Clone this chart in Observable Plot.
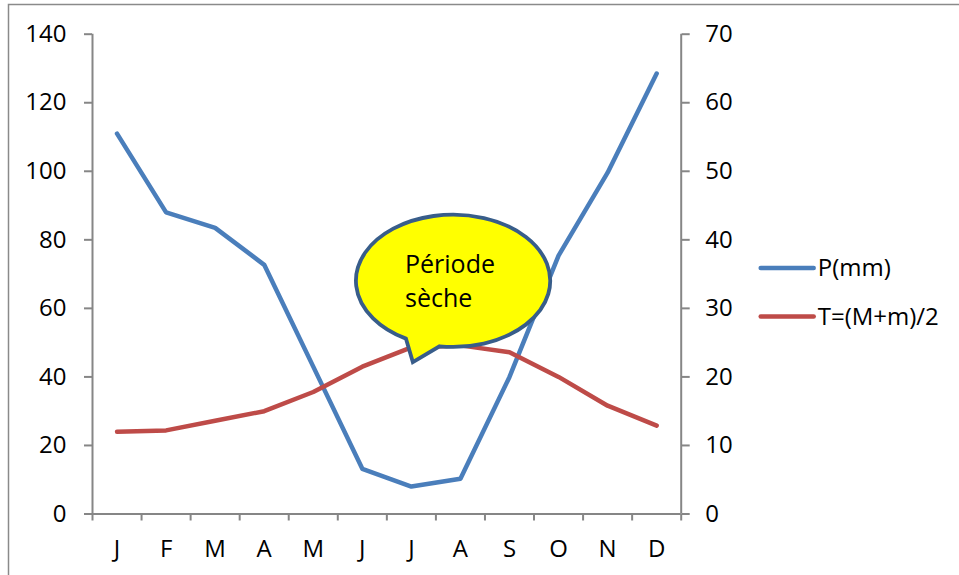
<!DOCTYPE html>
<html>
<head>
<meta charset="utf-8">
<script src="https://cdn.jsdelivr.net/npm/d3@7"></script>
<script src="https://cdn.jsdelivr.net/npm/@observablehq/plot@0.6"></script>
<style>
  html, body { margin: 0; padding: 0; background: #fff; }
  #chart { width: 959px; height: 575px; position: relative; }
</style>
</head>
<body>
<div id="chart"></div>
<script>
// ---- data ----
const months = ["J", "F", "M", "A", "M", "J", "J", "A", "S", "O", "N", "D"];
const precip = [111, 88, 83.5, 72.7, 43, 13.2, 8, 10.3, 40, 75.4, 99.6, 128.5]; // P(mm), left axis
const temp = [12, 12.2, 13.6, 15, 17.8, 21.5, 24.3, 24.6, 23.6, 20, 15.8, 12.9]; // T, right axis
const leftTicks = [0, 20, 40, 60, 80, 100, 120, 140];
const rightTicks = [0, 10, 20, 30, 40, 50, 60, 70];
const seriesNames = ["P(mm)", "T=(M+m)/2"];
const bubbleLines = ["Période", "sèche"];

// ---- styles ----
const colors = ["#4A7EBB", "#BE4B48"];
const axisGray = "#868686";
const font = "'Open Sans', sans-serif";
const fs = 24;

const leftMax = leftTicks[leftTicks.length - 1];
const rightMax = rightTicks[rightTicks.length - 1];
const ratio = leftMax / rightMax;

const rows = months.map((m, i) => ({i, p: precip[i], t: temp[i]}));
const boundaries = d3.range(months.length + 1).map(k => k - 0.5);

const W = 959, H = 575;
const plot = Plot.plot({
  width: W,
  height: H,
  marginLeft: 92,
  marginRight: 278.3,
  marginTop: 33.7,
  marginBottom: 61.5,
  style: {fontFamily: font, fontSize: fs + "px", color: "#000", background: "transparent", overflow: "visible"},
  x: {type: "linear", domain: [-0.5, months.length - 0.5]},
  y: {domain: [0, leftMax]},
  marks: [
    Plot.ruleX([-0.5], {stroke: axisGray, strokeWidth: 2}),
    Plot.ruleX([months.length - 0.5], {stroke: axisGray, strokeWidth: 2}),
    Plot.ruleY([0], {stroke: axisGray, strokeWidth: 2}),
    Plot.axisY({anchor: "left", ticks: leftTicks, tickSize: 8, tickPadding: 18, stroke: axisGray, strokeWidth: 2, label: null, fontSize: fs}),
    Plot.axisY({anchor: "right", ticks: leftTicks, tickFormat: d => d / ratio, tickSize: 8, tickPadding: 16, stroke: axisGray, strokeWidth: 2, label: null, fontSize: fs}),
    Plot.axisX({anchor: "bottom", ticks: boundaries, tickSize: 7, tickFormat: () => "", stroke: axisGray, strokeWidth: 2, label: null}),
    Plot.axisX({anchor: "bottom", ticks: months.map((m, i) => i), tickFormat: i => months[i], tickSize: 0, tickPadding: 26, label: null, fontSize: fs}),
    Plot.line(rows, {x: "i", y: "p", stroke: colors[0], strokeWidth: 4.5, strokeLinejoin: "round", strokeLinecap: "round"}),
    Plot.line(rows, {x: "i", y: d => d.t * ratio, stroke: colors[1], strokeWidth: 4.5, strokeLinejoin: "round", strokeLinecap: "round"})
  ]
});
document.getElementById("chart").appendChild(plot);

// scales from the plot
const sx = plot.scale("x"), sy = plot.scale("y");
const X = d3.scaleLinear(sx.domain, sx.range);
const Y = d3.scaleLinear(sy.domain, sy.range);
const svg = d3.select(plot);

// outer chart frame (partial, as in the reference)
svg.insert("path", ":first-child")
  .attr("d", `M8.5,${H} V4.5 H${W}`)
  .attr("fill", "none").attr("stroke", "#8a8a8a").attr("stroke-width", 1.5);

// ---- speech bubble annotation (data coords) ----
const bubble = {cx: 6.86, cy: 67.9, rxU: 1.98, ryU: 19.3, tipX: 6.04, tipY: 44.2, a1: 119, a2: 98, textX: 5.88, textY: [70.2, 60.3]};
const cx = X(bubble.cx), cy = Y(bubble.cy);
const rx = X(bubble.cx + bubble.rxU) - cx, ry = Y(bubble.cy - bubble.ryU) - cy;
const pt = a => [cx + rx * Math.cos(a * Math.PI / 180), cy + ry * Math.sin(a * Math.PI / 180)];
const [b1x, b1y] = pt(bubble.a1), [b2x, b2y] = pt(bubble.a2);
const g = svg.append("g");
g.append("path")
  .attr("d", `M${b1x},${b1y} A${rx},${ry} 0 1 1 ${b2x},${b2y} L${X(bubble.tipX)},${Y(bubble.tipY)} Z`)
  .attr("fill", "#FFFF00").attr("stroke", "#385D8A").attr("stroke-width", 3.8).attr("stroke-linejoin", "miter");
bubbleLines.forEach((t, k) => {
  g.append("text").attr("x", X(bubble.textX)).attr("y", Y(bubble.textY[k]))
    .attr("text-anchor", "start")
    .attr("font-family", font).attr("font-size", 25).attr("fill", "#000").text(t);
});

// ---- legend ----
const legX = sx.range[1] + 80;
const legY = [268, 316.5];
const lg = svg.append("g");
seriesNames.forEach((name, k) => {
  lg.append("line").attr("x1", legX).attr("x2", legX + 53).attr("y1", legY[k]).attr("y2", legY[k])
    .attr("stroke", colors[k]).attr("stroke-width", 4.5).attr("stroke-linecap", "round");
  lg.append("text").attr("x", legX + 57).attr("y", legY[k]).attr("dy", "0.35em")
    .attr("text-anchor", "start")
    .attr("font-family", font).attr("font-size", fs).attr("fill", "#000").text(name);
});
</script>
</body>
</html>
